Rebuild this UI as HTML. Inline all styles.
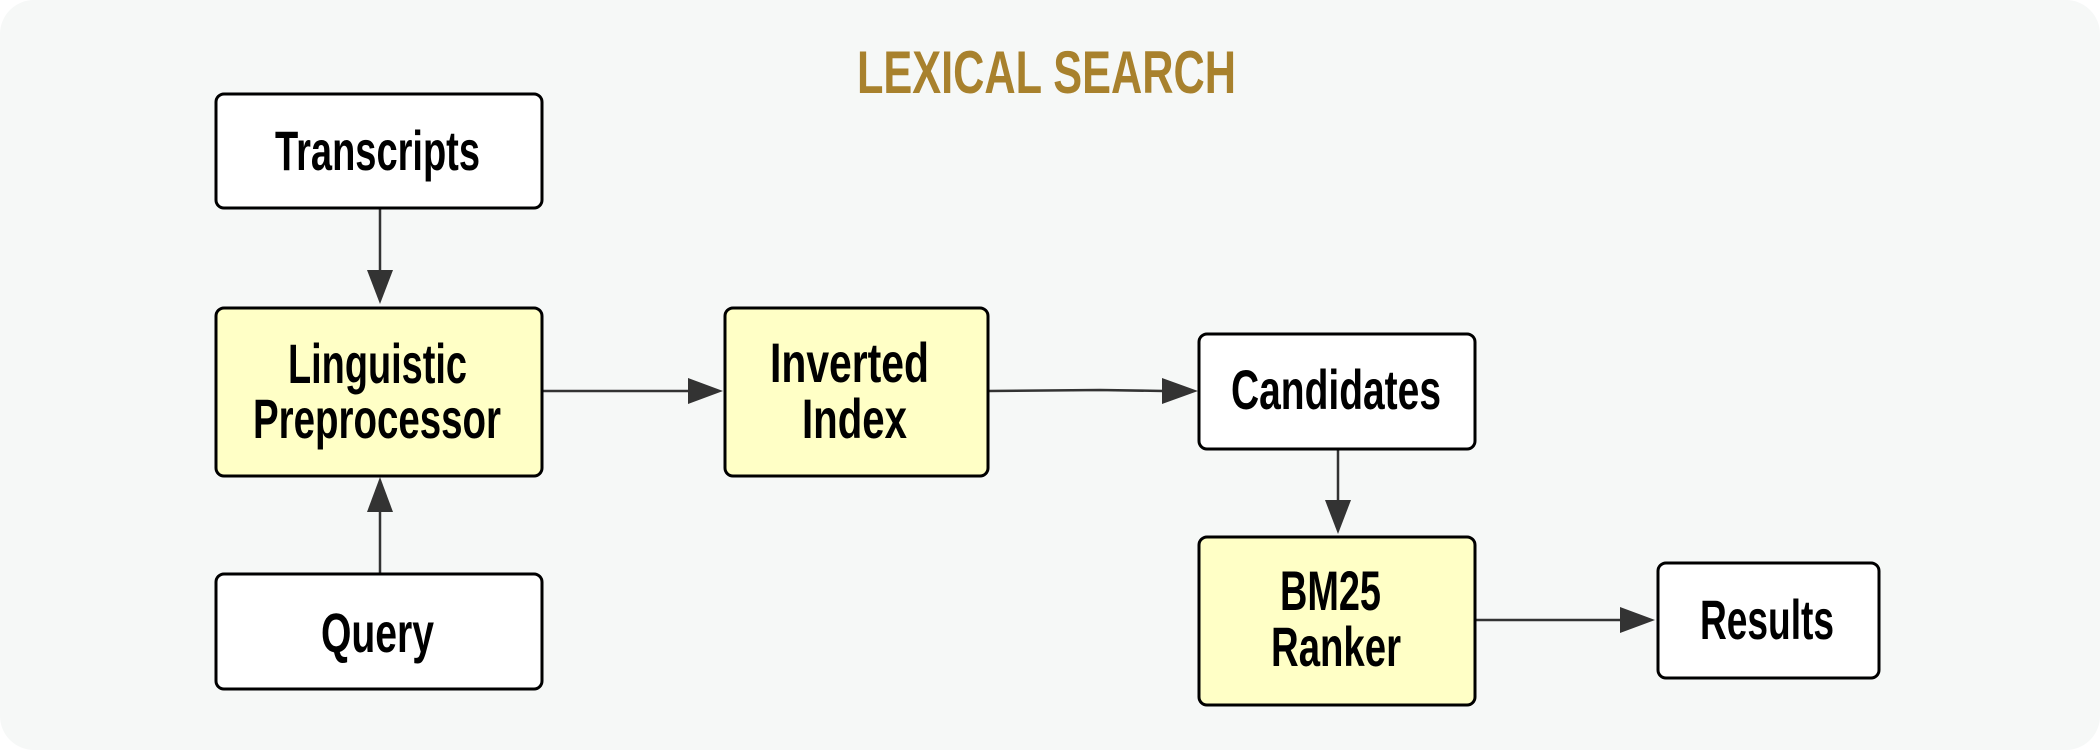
<!DOCTYPE html>
<html><head><meta charset="utf-8"><style>
html,body{margin:0;padding:0;background:#fff;}
svg{display:block;}
text{font-family:"Liberation Sans Narrow","Liberation Sans",sans-serif;font-weight:bold;fill:#000;}
</style></head><body>
<svg width="2100" height="750" viewBox="0 0 2100 750" xmlns="http://www.w3.org/2000/svg">
<rect x="0" y="0" width="2100" height="750" rx="34" fill="#F6F8F7"/>
<text x="857" y="93" font-size="60" textLength="379" lengthAdjust="spacingAndGlyphs" style="fill:#A8812D">LEXICAL SEARCH</text>
<g stroke="#333" stroke-width="2.5" fill="none">
<line x1="380" y1="208" x2="380" y2="272"/>
<line x1="380" y1="574" x2="380" y2="510"/>
<line x1="542" y1="391" x2="690" y2="391"/>
<path d="M988 391 L1100 390 L1164 391"/>
<line x1="1338" y1="449" x2="1338" y2="502"/>
<line x1="1475" y1="620" x2="1622" y2="620"/>
</g>
<g fill="#333">
<polygon points="367,270 393,270 380,304"/>
<polygon points="367,512 393,512 380,477"/>
<polygon points="688,378 688,404 723,391"/>
<polygon points="1162,378 1162,404 1198,391"/>
<polygon points="1325,500 1351,500 1338,534"/>
<polygon points="1620,607 1620,633 1655,620"/>
</g>
<g stroke="#000" stroke-width="3">
<rect x="216" y="94" width="326" height="114" rx="8" fill="#fff"/>
<rect x="216" y="308" width="326" height="168" rx="8" fill="#FFFFC6"/>
<rect x="216" y="574" width="326" height="115" rx="8" fill="#fff"/>
<rect x="725" y="308" width="263" height="168" rx="8" fill="#FFFFC6"/>
<rect x="1199" y="334" width="276" height="115" rx="8" fill="#fff"/>
<rect x="1199" y="537" width="276" height="168" rx="8" fill="#FFFFC6"/>
<rect x="1658" y="563" width="221" height="115" rx="8" fill="#fff"/>
</g>
<text x="275" y="170" font-size="56" textLength="205" lengthAdjust="spacingAndGlyphs">Transcripts</text>
<text x="288" y="383" font-size="56" textLength="179" lengthAdjust="spacingAndGlyphs">Linguistic</text>
<text x="253" y="438" font-size="56" textLength="248" lengthAdjust="spacingAndGlyphs">Preprocessor</text>
<text x="321" y="652" font-size="56" textLength="113" lengthAdjust="spacingAndGlyphs">Query</text>
<text x="770" y="382" font-size="56" textLength="159" lengthAdjust="spacingAndGlyphs">Inverted</text>
<text x="802" y="438" font-size="56" textLength="105" lengthAdjust="spacingAndGlyphs">Index</text>
<text x="1231" y="409" font-size="56" textLength="210" lengthAdjust="spacingAndGlyphs">Candidates</text>
<text x="1280" y="610" font-size="56" textLength="101" lengthAdjust="spacingAndGlyphs">BM25</text>
<text x="1271" y="666" font-size="56" textLength="130" lengthAdjust="spacingAndGlyphs">Ranker</text>
<text x="1700" y="639" font-size="56" textLength="134" lengthAdjust="spacingAndGlyphs">Results</text>
</svg>
</body></html>
